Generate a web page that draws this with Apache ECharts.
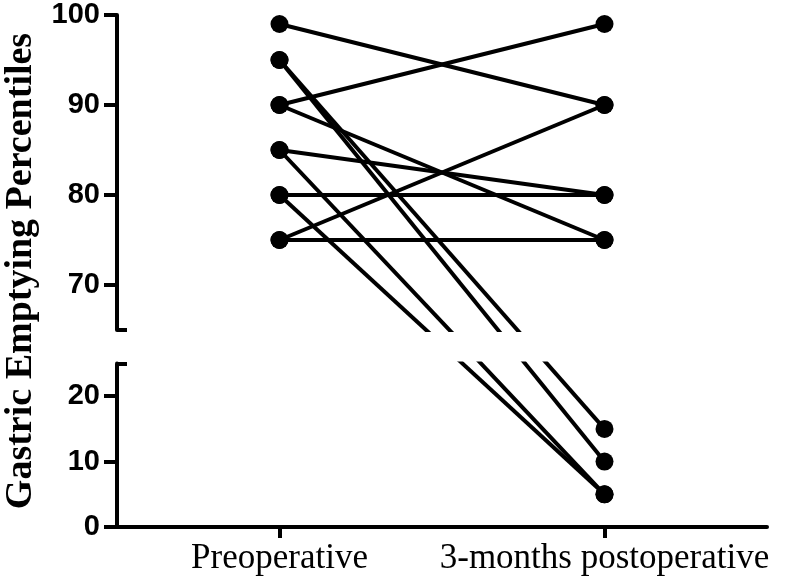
<!DOCTYPE html>
<html>
<head>
<meta charset="utf-8">
<script src="https://cdn.jsdelivr.net/npm/echarts@6/dist/echarts.min.js"></script>
<style>
  html, body { margin: 0; padding: 0; background: #fff; }
  #chart { width: 787px; height: 584px; }
</style>
</head>
<body>
<div id="chart"></div>
<script>
// data (one entry per patient)
const categories = ['Preoperative', '3-months postoperative']
const preValues  = [99, 95, 95, 90, 90, 85, 85, 80, 80, 75, 75]
const postValues = [90, 15, 10, 99, 75, 80,  5, 80,  5, 75, 90]
const topTicks = [70, 80, 90, 100]
const bottomTicks = [0, 10, 20]
// broken axis ranges
const topRange = [65, 100]
const bottomRange = [0, 25]

const chart = echarts.init(document.getElementById('chart'))

const tickLabel = {
  fontFamily: 'Liberation Sans, Arial, sans-serif',
  fontWeight: 'bold',
  fontSize: 29,
  color: '#000',
  margin: 17
}
const axisLine = { show: true, lineStyle: { color: '#000', width: 4 } }
const axisTick = { show: true, length: 13, lineStyle: { color: '#000', width: 4 } }

const capAxis = (gridIndex, value) => ({
  type: 'value', gridIndex, min: value === 65 ? topRange[0] : bottomRange[0],
  max: value === 65 ? topRange[1] : bottomRange[1],
  position: 'left',
  axisLine: { show: false },
  splitLine: { show: false },
  axisLabel: { show: false },
  axisTick: { show: true, inside: true, length: 10, customValues: [value], lineStyle: { color: '#000', width: 4 } }
})

chart.setOption({
  animation: false,
  backgroundColor: '#fff',
  grid: [
    { left: 117, right: 20, top: 15, height: 315 },
    { left: 117, right: 20, top: 363.5, height: 163.5 }
  ],
  xAxis: [
    { type: 'category', gridIndex: 0, data: categories, boundaryGap: true, show: false },
    {
      type: 'category', gridIndex: 1, data: categories, boundaryGap: true,
      axisLine,
      axisTick: { show: true, alignWithLabel: true, length: 11, lineStyle: { color: '#000', width: 4 } },
      axisLabel: {
        interval: 0, hideOverlap: false,
        fontFamily: 'Liberation Serif, Times New Roman, serif', fontSize: 35, color: '#000', margin: 14
      },
      splitLine: { show: false }
    }
  ],
  yAxis: [
    {
      type: 'value', gridIndex: 0, min: topRange[0], max: topRange[1],
      axisLine, splitLine: { show: false },
      axisTick: Object.assign({ customValues: topTicks }, axisTick),
      axisLabel: Object.assign({ customValues: topTicks }, tickLabel)
    },
    {
      type: 'value', gridIndex: 1, min: bottomRange[0], max: bottomRange[1],
      axisLine, splitLine: { show: false },
      axisTick: Object.assign({ customValues: bottomTicks }, axisTick),
      axisLabel: Object.assign({ customValues: bottomTicks }, tickLabel)
    },
    capAxis(0, 65),
    capAxis(1, 25)
  ],
  graphic: [{
    type: 'text',
    x: 21,
    y: 271,
    rotation: Math.PI / 2,
    style: {
      text: 'Gastric Emptying Percentiles',
      font: 'bold 38px "Liberation Serif", "Times New Roman", serif',
      fill: '#000',
      align: 'center',
      verticalAlign: 'middle'
    }
  }]
})

// pixel y of a value on the broken axis (top or bottom segment)
function pixelY(v) {
  return v >= topRange[0]
    ? chart.convertToPixel({ yAxisIndex: 0 }, v)
    : chart.convertToPixel({ yAxisIndex: 1 }, v)
}
// value that the given axis would give to that pixel (lines run straight across the break)
function valueOn(axisIndex, v) {
  return chart.convertFromPixel({ yAxisIndex: axisIndex }, pixelY(v))
}
const inRange = (v, r) => v >= r[0] && v <= r[1]

const series = []
preValues.forEach((pre, i) => {
  const post = postValues[i]
  const segments = [
    { axis: 0, range: topRange },
    { axis: 1, range: bottomRange }
  ]
  segments.forEach(seg => {
    if (!inRange(pre, seg.range) && !inRange(post, seg.range)) return
    const pts = [pre, post].map((v, x) => {
      const ok = inRange(v, seg.range)
      return {
        value: [x, ok ? v : valueOn(seg.axis, v)],
        symbol: ok ? 'circle' : 'none'
      }
    })
    series.push({
      type: 'line',
      xAxisIndex: seg.axis,
      yAxisIndex: seg.axis,
      data: pts,
      clip: true,
      symbol: 'circle',
      symbolSize: 18,
      showAllSymbol: true,
      itemStyle: { color: '#000' },
      lineStyle: { color: '#000', width: 4 },
      emphasis: { disabled: true },
      z: 3
    })
  })
})

chart.setOption({ series })
</script>
</body>
</html>
